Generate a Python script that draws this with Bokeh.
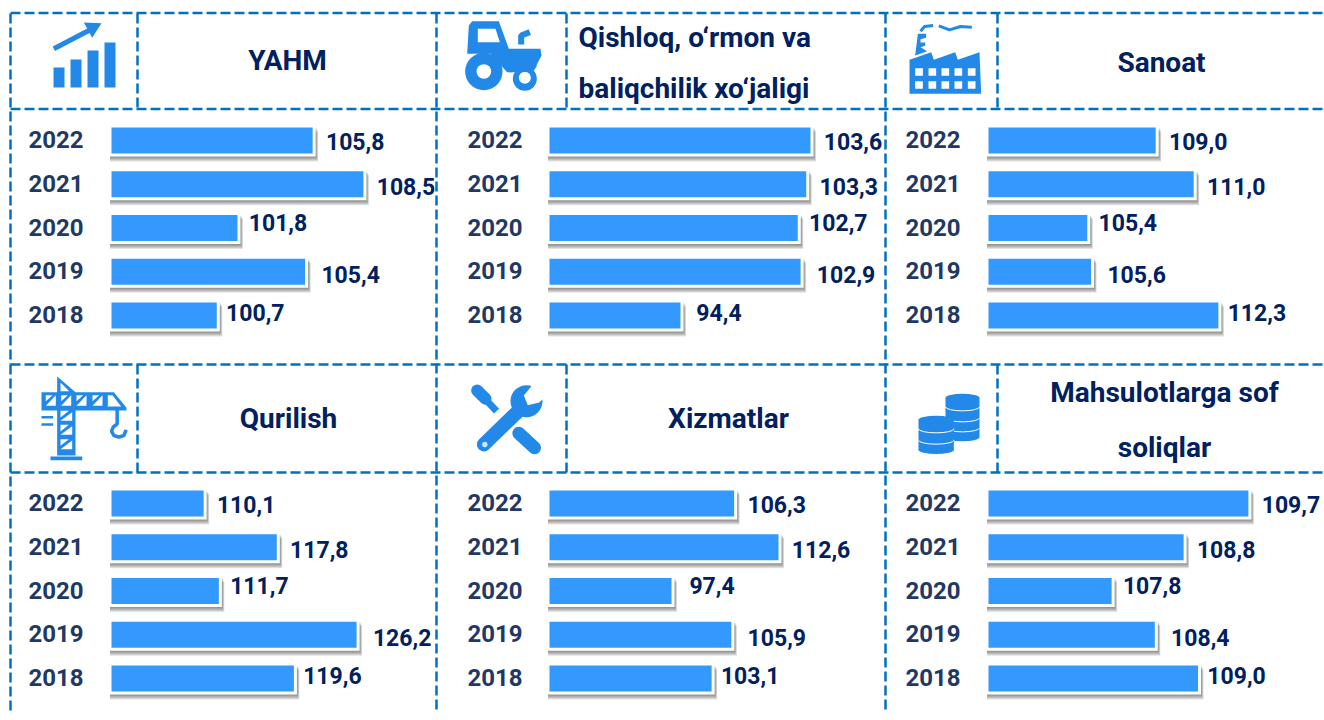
from bokeh.plotting import figure
from bokeh.models import Range1d
from bokeh.core.properties import value
from bokeh.embed import file_html
from bokeh.resources import INLINE
import numpy as np

years = [2022, 2021, 2020, 2019, 2018]
yahm = [105.8, 108.5, 101.8, 105.4, 100.7]
qishloq = [103.6, 103.3, 102.7, 102.9, 94.4]
sanoat = [109.0, 111.0, 105.4, 105.6, 112.3]
qurilish = [110.1, 117.8, 111.7, 126.2, 119.6]
xizmatlar = [106.3, 112.6, 97.4, 105.9, 103.1]
mahsulot = [109.7, 108.8, 107.8, 108.4, 109.0]
titles = ["YAHM", "Qishloq, o‘rmon va\nbaliqchilik xo‘jaligi", "Sanoat", "Qurilish", "Xizmatlar", "Mahsulotlarga sof\nsoliqlar"]

FONT = "Roboto"
NAVY = "#002060"
YEARC = "#1F3864"
BAR = "#3399FF"
ICON = "#2389E8"
DASH = "#0070C0"
W, H = 1324, 720

p = figure(width=W, height=H, x_range=Range1d(0, W), y_range=Range1d(H, 0),
           toolbar_location=None, output_backend="svg", min_border=0, outline_line_color=None)
p.axis.visible = False
p.grid.visible = False
p.background_fill_color = "white"

# dashed frame
hl = [(10, 1324, 12.5), (10, 1324, 108.5), (10, 1324, 364), (10, 1324, 472)]
vl = [(10, 13, 364), (137, 13, 109), (436, 13, 712), (566, 13, 109), (885, 13, 712), (997, 13, 109),
      (10, 364, 712), (137, 364, 472), (566, 364, 472), (997, 364, 472)]
for x0, x1, y in hl:
    p.line([x0, x1], [y, y], line_color=DASH, line_width=2.5, line_dash="10 4")
for x, y0, y1 in vl:
    p.line([x, x], [y0, y1], line_color=DASH, line_width=2.5, line_dash="10 4")

# panels: series, x of bar start, baseline value, px per unit, row y of 2022 bar
panels = [
    ("a", yahm, 111, 95.1, 18.8, 140, 0),
    ("b", qishloq, 549, 85.13, 14.13, 140, 1),
    ("c", sanoat, 988, 100.2, 19.0, 140, 2),
    ("d", qurilish, 111, 100.4, 9.5, 503, 0),
    ("e", xizmatlar, 549, 80.07, 7.04, 503, 1),
    ("f", mahsulot, 988, 106.09, 72.0, 503, 2),
]
label_gap = [16, 16, 14, 19, 12]
label_dy = [1, 2, -6, 2.5, -3]
STEP = 43.75
year_right = [83, 522, 960]

for name, vals, x0, base, slope, ytop, col in panels:
    xn, yn = name + "x", name + "y"
    p.extra_x_ranges[xn] = Range1d(base + (0 - x0) / slope, base + (W - x0) / slope)
    p.extra_y_ranges[yn] = Range1d(2022 - (H - ytop) / STEP, 2022 + ytop / STEP)
    v = np.array(vals)
    y = np.array(years, dtype=float)
    h = 26 / STEP
    hw = 30 / STEP
    left = base - 1.5 / slope
    for d in (5, 4, 3, 2, 1):
        p.hbar(y=y - (1 + d) / STEP, height=hw, left=left, right=v + (3 + d * 0.5) / slope,
               fill_color="#404040", fill_alpha=0.15, line_color=None, x_range_name=xn, y_range_name=yn)
    p.hbar(y=y - 1 / STEP, height=hw, left=left, right=v + 3 / slope, fill_color="white", line_color=None,
           x_range_name=xn, y_range_name=yn)
    p.hbar(y=y, height=h, left=base, right=v, fill_color=BAR, line_color=None,
           x_range_name=xn, y_range_name=yn)
    for i, (yr, val) in enumerate(zip(years, vals)):
        p.text([val], [yr], text=[f"{val:.1f}".replace(".", ",")], x_offset=label_gap[i] + 26.5, y_offset=label_dy[i],
               text_font=value(FONT), text_font_style="bold", text_font_size="23px", text_color=NAVY,
               text_align="center", text_baseline="middle", x_range_name=xn, y_range_name=yn)
    p.text([base] * 5, y, text=[str(t) for t in years], x_offset=year_right[col] - x0, y_offset=-1,
           text_font=value(FONT), text_font_style="bold", text_font_size="24px", text_color=YEARC,
           text_align="right", text_baseline="middle", x_range_name=xn, y_range_name=yn)

# titles
title_pos = [(287, 60), (578, 37), (1161, 62), (288, 418), (728, 418), (1164, 392)]
for i, t in enumerate(titles):
    lines = t.split("\n")
    x, yc = title_pos[i]
    for j, ln in enumerate(lines):
        dy = 51 if i == 1 else 55
        p.text([x], [yc + j * dy], text=[ln], text_font=value(FONT), text_font_style="bold",
               text_font_size="28px", text_color=NAVY,
               text_align="left" if i == 1 else "center", text_baseline="middle")

# icons, outlines read in 3x crop coordinates
def Z(ox, oy, pts):
    return [ox + a / 3 for a, b in pts], [oy + b / 3 for a, b in pts]

def poly(ox, oy, pts, color=ICON):
    xs, ys = Z(ox, oy, pts)
    p.patch(xs, ys, fill_color=color, line_color=None)

def stroke(ox, oy, pts, w, color=ICON, cap="butt"):
    xs, ys = Z(ox, oy, pts)
    p.line(xs, ys, line_color=color, line_width=w, line_cap=cap)

def disc(ox, oy, cx, cy, r, color=ICON):
    p.ellipse([ox + cx / 3], [oy + cy / 3], width=2 * r / 3, height=2 * r / 3, fill_color=color, line_color=None)

# growth chart
for a, top in [(159, 201), (210, 177), (261, 150), (312, 126)]:
    poly(0, 0, [(a, top), (a + 33, top), (a + 33, 261), (a, 261)])
stroke(0, 0, [(160, 145), (275, 85)], 5)
poly(0, 0, [(250, 66), (303, 68), (275, 112)])

# tractor
poly(440, 0, [(85, 75), (95, 62), (175, 62), (205, 145), (300, 145), (303, 165), (280, 210), (200, 215), (150, 160), (80, 160)])
poly(440, 0, [(112, 85), (165, 85), (178, 125), (112, 125)], "white")
stroke(440, 0, [(242, 132), (242, 105), (268, 95)], 6)
disc(440, 0, 130, 213, 56)
disc(440, 0, 130, 213, 22, "white")
disc(440, 0, 253, 235, 36)
disc(440, 0, 253, 232, 18, "white")
poly(440, 0, [(205, 195), (290, 195), (278, 212), (205, 216)])

# factory
poly(884, 0, [(75, 178), (140, 155), (148, 178), (212, 155), (220, 178), (285, 155), (290, 280), (75, 280)])
poly(884, 0, [(92, 165), (100, 100), (125, 100), (125, 112), (108, 116), (108, 126), (122, 126), (122, 136), (108, 140), (128, 152)])
stroke(884, 0, [(108, 92), (120, 78), (146, 75)], 3)
stroke(884, 0, [(163, 76), (195, 88), (228, 78), (262, 80)], 3)
for a in (92, 132, 171, 210, 250):
    for b in (203, 242):
        poly(884, 0, [(a, b), (a + 23, b), (a + 23, b + 23), (a, b + 23)], "white")

# crane
poly(0, 360, [(170, 48), (225, 95), (340, 95), (378, 142), (378, 150), (225, 150), (225, 285), (170, 285), (170, 150), (123, 150), (123, 95), (170, 95)])
poly(0, 360, [(150, 288), (245, 288), (245, 299), (150, 299)])
stroke(0, 360, [(123, 170), (158, 170)], 2.5)
stroke(0, 360, [(123, 192), (158, 192)], 2.5)
for a in (136, 182, 228, 276):
    poly(0, 360, [(a, 136), (a + 30, 104), (a + 30, 136)], "white")
    poly(0, 360, [(a, 104), (a + 20, 104), (a, 122)], "white")
poly(0, 360, [(322, 104), (336, 104), (362, 138), (322, 138)], "white")
poly(0, 360, [(180, 66), (206, 92), (180, 92)], "white")
for b in (155, 197, 240):
    poly(0, 360, [(180, b + 26), (215, b), (215, b + 26)], "white")
    poly(0, 360, [(180, b - 4), (205, b - 4), (180, b + 16)], "white")
stroke(0, 360, [(350, 145), (350, 190), (338, 200), (333, 212), (340, 225), (355, 230), (370, 225), (377, 208)], 3.5)

# wrench and screwdriver
stroke(440, 360, [(112, 92), (168, 152)], 7)
stroke(440, 360, [(110, 90), (135, 115)], 12, cap="round")
stroke(440, 360, [(235, 218), (282, 262)], 13, cap="round")
stroke(440, 360, [(130, 252), (230, 155)], 14, cap="round")
disc(440, 360, 258, 122, 48)
poly(440, 360, [(272, 78), (250, 105), (262, 134), (296, 126), (325, 100), (305, 55)], "white")
disc(440, 360, 133, 252, 8, "#CFE6FA")

# coin stacks
def stack(cx, w, cys):
    for cy in cys:
        X = 884 + cx / 3
        Yt = 360 + cy / 3
        th = 9
        wd = w / 3
        p.ellipse([X], [Yt + th], width=wd, height=8, fill_color=ICON, line_color="white", line_width=1)
        p.quad(left=[X - wd / 2], right=[X + wd / 2], top=[Yt], bottom=[Yt + th], fill_color=ICON, line_color=None)
        p.ellipse([X], [Yt], width=wd, height=8, fill_color=ICON, line_color=None)

stack(234, 102, [205, 175, 145, 112])
stack(155, 106, [243, 212, 178])

open("out.html", "w").write(file_html(p, INLINE))
